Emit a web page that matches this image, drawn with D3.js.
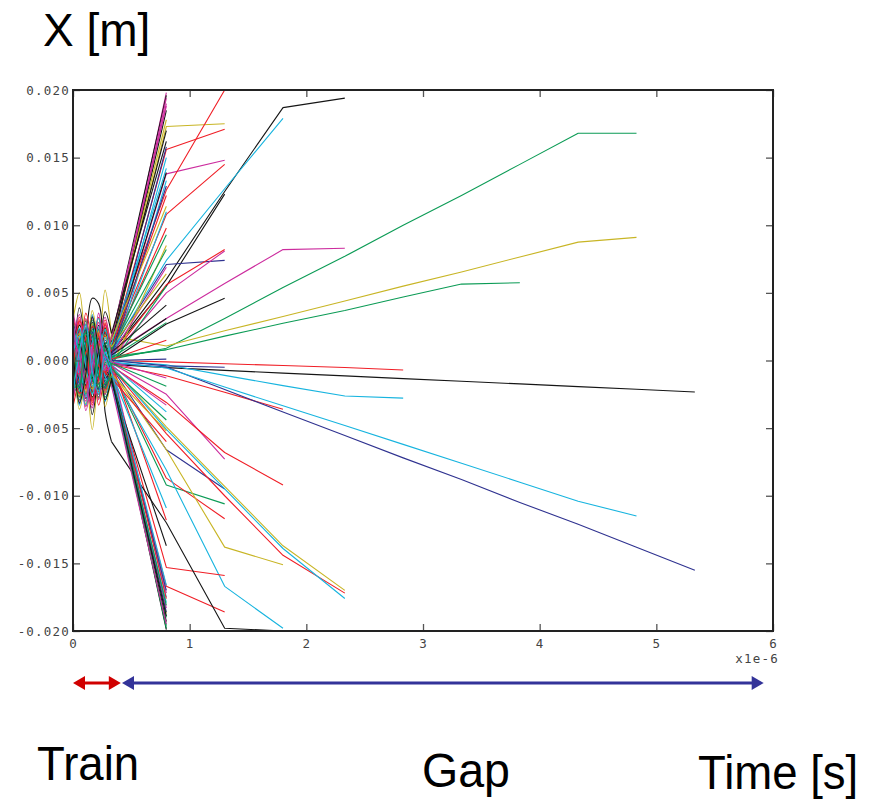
<!DOCTYPE html>
<html><head><meta charset="utf-8">
<script src="https://cdn.jsdelivr.net/npm/d3@7"></script>
<style>body{margin:0;background:#fff}svg{display:block}</style>
</head><body>
<svg id="chart" width="877" height="801"></svg>
<script>
// ---- data (time in 1e-6 s, position in 1e-3 m) ----
const trainT = [0, 0.055, 0.11, 0.165, 0.22, 0.275, 0.33];
const gapT = [0.8, 1.3, 1.8, 2.33, 2.83, 3.33, 3.83, 4.33, 4.83, 5.33];
const xTicks = [0, 1, 2, 3, 4, 5, 6];
const xTickLabels = ["0", "1", "2", "3", "4", "5", "6"];
const yTicks = [-20, -15, -10, -5, 0, 5, 10, 15, 20];
const yTickLabels = ["-0.020", "-0.015", "-0.010", "-0.005", "0.000", "0.005", "0.010", "0.015", "0.020"];
const palette = {K:"#151515", R:"#f01e26", G:"#0b9b55", B:"#2f3290", C:"#17b4df", M:"#cc2c9e", Y:"#c8b525"};
const trainSpan = [0, 0.41];
const gapSpan = [0.42, 5.92];

// [colour, positions at trainT, positions at gapT (until lost)]
const fanUp = [
 ["M",[1.2,2.8,-1.0,-2.9,1.3,2.6,1.0],[19.8]],
 ["K",[-2.0,1.5,2.2,-1.4,-2.1,1.2,1.6],[19.6]],
 ["M",[0.5,-3.0,-0.6,3.1,0.4,-2.5,0.6],[19.4]],
 ["M",[2.5,0.8,-2.6,-0.9,2.4,0.7,0.8],[19.0]],
 ["K",[-1.0,-2.4,1.1,2.5,-0.9,-2.0,0.9],[18.5]],
 ["Y",[3.0,-0.5,-3.2,0.6,3.1,-0.4,1.3],[17.8]],
 ["K",[0.3,2.0,-0.2,-2.1,0.4,1.9,1.4],[17.0]],
 ["B",[-1.8,-1.2,1.9,1.3,-1.7,-1.0,0.5],[15.8]],
 ["C",[1.6,-1.9,-1.7,2.0,1.5,-1.6,0.2],[15.0]],
 ["C",[-2.6,0.4,2.7,-0.5,-2.5,0.3,1.2],[14.2]],
 ["K",[0.9,1.1,-1.0,-1.2,0.9,1.0,0.6],[13.9]],
 ["C",[-0.4,-3.3,0.5,3.4,-0.3,-3.0,-0.4],[13.3]],
 ["R",[2.1,2.2,-2.0,-2.3,2.0,2.1,0.9],[12.2]],
 ["Y",[-1.5,2.6,1.6,-2.7,-1.4,2.4,1.5],[11.4]],
 ["C",[1.0,-0.6,-1.1,0.7,1.0,-0.5,0.1],[11.0]],
 ["R",[-3.4,-1.0,3.5,1.1,-3.3,-0.9,0.7],[9.8]],
 ["G",[0.7,2.3,-0.8,-2.4,0.6,2.2,0.9],[9.3]],
 ["Y",[2.2,-2.6,-2.3,2.7,2.1,-2.4,-0.5],[8.5]],
 ["G",[-0.2,1.4,0.3,-1.5,-0.2,1.3,0.8],[8.2]],
 ["M",[1.9,0.2,-2.0,-0.3,1.8,0.2,0.4],[6.9]],
 ["Y",[-2.9,1.7,3.0,-1.8,-2.8,1.6,1.0],[6.4]],
 ["G",[0.4,-2.2,-0.5,2.3,0.5,-2.1,-0.3],[5.5]],
 ["K",[-1.3,0.9,1.4,-1.0,-1.3,0.8,0.6],[4.1]],
 ["K",[2.7,1.2,-2.8,-1.3,2.6,1.1,0.4],[3.1]],
 ["G",[-0.6,-1.6,0.7,1.7,-0.5,-1.5,0.2],[2.8]],
 ["R",[1.4,-1.1,-1.5,1.2,1.3,-1.0,0.1],[1.5]],
 ["G",[-2.3,-0.3,2.4,0.4,-2.2,-0.2,0.3],[0.8]],
 ["B",[0.2,0.1,-0.2,-0.1,0.2,0.1,0.0],[0.1]],
 ["M",[3.6,0.9,-3.7,-1.0,3.5,0.8,1.7],[18.8]],
 ["K",[-0.7,3.9,0.8,-4.0,-0.6,3.6,2.0],[16.2]],
 ["B",[1.1,-2.0,-1.2,2.1,1.0,-1.8,0.4],[12.9]]
];
const fanDown = [
 ["K",[-1.1,2.6,1.2,-2.7,-1.0,2.4,-1.2],[-19.9]],
 ["G",[2.4,0.6,-2.5,-0.7,2.3,0.5,-0.9],[-19.8]],
 ["G",[-0.3,-2.9,0.4,3.0,-0.2,-2.7,-1.5],[-19.6]],
 ["K",[1.7,-1.4,-1.8,1.5,1.6,-1.3,-0.6],[-19.3]],
 ["G",[-2.8,1.0,2.9,-1.1,-2.7,0.9,-0.4],[-19.0]],
 ["Y",[0.8,2.0,-0.9,-2.1,0.7,1.9,-1.0],[-18.7]],
 ["M",[-1.6,-0.5,1.7,0.6,-1.5,-0.4,-0.8],[-18.3]],
 ["C",[3.2,-1.3,-3.3,1.4,3.1,-1.2,-1.8],[-17.9]],
 ["C",[-0.9,1.8,1.0,-1.9,-0.8,1.7,-0.5],[-17.5]],
 ["M",[1.3,3.4,-1.4,-3.5,1.2,3.2,-0.3],[-17.2]],
 ["B",[-2.2,-2.0,2.3,2.1,-2.1,-1.9,-1.1],[-17.0]],
 ["B",[0.1,-1.7,-0.1,1.8,0.0,-1.6,-1.4],[-18.6]],
 ["M",[-3.0,0.2,3.1,-0.3,-2.9,0.1,-1.9],[-19.5]],
 ["R",[1.9,-2.4,-2.0,2.5,1.8,-2.2,-0.7],[-17.6]],
 ["K",[0.6,1.2,-0.7,-1.3,0.6,1.1,-1.6],[-13.7]],
 ["R",[-1.4,2.9,1.5,-3.0,-1.3,2.7,-0.2],[-11.8]],
 ["C",[2.6,0.3,-2.7,-0.4,2.5,0.2,-0.9],[-10.9]],
 ["R",[-0.5,-1.0,0.6,1.1,-0.4,-0.9,-1.3],[-6.0]],
 ["Y",[1.0,-3.6,-1.1,3.7,0.9,-3.4,-1.0],[-5.2]],
 ["G",[-1.9,1.3,2.0,-1.4,-1.8,1.2,-0.6],[-4.4]],
 ["C",[0.3,2.4,-0.4,-2.5,0.3,2.3,-0.3],[-3.8]],
 ["M",[2.9,-0.8,-3.0,0.9,2.8,-0.7,-0.4],[-3.3]],
 ["G",[-1.2,-2.1,1.3,2.2,-1.1,-2.0,-0.2],[-1.9]],
 ["M",[1.5,0.4,-1.6,-0.5,1.4,0.3,-0.1],[-1.3]],
 ["G",[-2.0,-1.8,2.1,1.9,-2.0,-1.7,-1.2],[-18.1]],
 ["K",[0.9,-3.1,-1.0,3.2,0.8,-2.9,-1.3],[-18.9]],
 ["C",[-2.5,0.7,2.6,-0.8,-2.4,0.6,-0.8],[-16.6]]
];
const tracksUp = [
 ["Y",[-0.8,1.9,0.9,-2.0,-0.7,1.8,1.1],[17.3,17.5]],
 ["R",[2.3,-1.5,-2.4,1.6,2.2,-1.4,0.9],[15.6,17.1]],
 ["M",[-1.7,-2.5,1.8,2.6,-1.6,-2.3,0.5],[13.8,14.8]],
 ["R",[0.4,3.2,-0.5,-3.3,0.4,3.0,0.8],[10.8,14.5]],
 ["R",[-2.6,1.0,2.7,-1.1,-2.5,0.9,1.4],[12.6,20.0]],
 ["K",[1.1,-2.7,-1.2,2.8,1.0,-2.5,0.6],[6.0,12.5,18.7,19.4]],
 ["K",[-1.5,0.8,1.6,-0.9,-1.4,0.7,0.6],[5.5,12.3]],
 ["C",[0.2,-1.3,-0.3,1.4,0.2,-1.2,0.7],[7.4,12.7,17.9]],
 ["M",[-0.6,2.1,0.7,-2.2,-0.5,2.0,0.5],[3.1,5.7,8.2,8.3]],
 ["G",[1.8,0.5,-1.9,-0.6,1.7,0.4,0.1],[0.9,3.1,5.4,7.7,10.0,12.2,14.5,16.8,16.8]],
 ["Y",[3.0,5.0,0.2,-5.1,-0.2,5.2,1.8],[1.07,2.2,3.25,4.4,5.5,6.55,7.65,8.75,9.1]],
 ["G",[-2.1,-0.7,2.2,0.8,-2.0,-0.6,0.2],[0.8,1.8,2.75,3.7,4.7,5.65,5.75]],
 ["B",[0.9,1.6,-1.0,-1.7,0.8,1.5,0.7],[7.1,7.4]],
 ["R",[-1.1,-1.9,1.2,2.0,-1.0,-1.8,0.3],[5.6,8.2]],
 ["M",[2.0,-0.9,-2.1,1.0,1.9,-0.8,0.2],[5.0,8.1]],
 ["K",[-0.3,-1.2,0.4,1.3,-0.3,-1.1,0.0],[2.7,4.6]]
];
const tracksDown = [
 ["R",[0.4,0.3,-0.4,-0.3,0.4,0.3,0.0],[-0.1,-0.24,-0.37,-0.52,-0.7]],
 ["K",[-0.8,2.2,0.9,-2.3,-0.7,2.1,-0.3],[-0.53,-0.73,-0.93,-1.14,-1.34,-1.53,-1.73,-1.93,-2.13,-2.33]],
 ["C",[1.2,0.6,-1.3,-0.7,1.1,0.5,0.0],[-0.32,-1.1,-1.86,-2.63,-2.78]],
 ["R",[-2.4,-1.0,2.5,1.1,-2.3,-0.9,-0.3],[-1.13,-2.35,-3.6]],
 ["B",[0.6,-3.2,-0.7,3.3,0.5,-3.0,-0.2],[-0.48,-2.15,-3.8,-5.55,-7.2,-8.8,-10.5,-12.1,-13.8,-15.5]],
 ["C",[-1.6,0.3,1.7,-0.4,-1.5,0.2,-0.1],[-0.55,-1.96,-3.35,-4.8,-6.2,-7.6,-9.0,-10.4,-11.5]],
 ["B",[0.1,0.0,-0.1,0.0,0.1,0.0,0.0],[-0.4,-0.5]],
 ["M",[2.2,1.4,-2.3,-1.5,2.1,1.3,-0.2],[-2.5,-7.3]],
 ["R",[-0.9,2.7,1.0,-2.8,-0.8,2.5,-0.4],[-3.1,-6.8,-9.2]],
 ["B",[1.5,-0.4,-1.6,0.5,1.4,-0.3,-0.5],[-6.6,-9.5]],
 ["G",[-0.5,-2.6,0.6,2.7,-0.4,-2.4,-0.7],[-9.2,-10.6]],
 ["R",[3.3,0.5,-3.4,-0.6,3.2,0.4,-0.6],[-8.7,-11.7]],
 ["Y",[-1.8,1.2,1.9,-1.3,-1.7,1.1,-0.8],[-6.6,-13.8,-15.1]],
 ["C",[0.7,-2.3,-0.8,2.4,0.6,-2.1,-0.9],[-8.1,-16.7,-19.8]],
 ["R",[-2.9,-0.2,3.0,0.3,-2.8,-0.1,-1.0],[-15.3,-15.9]],
 ["R",[1.0,1.9,-1.1,-2.0,0.9,1.8,-1.1],[-16.7,-18.6]],
 ["K",[0.5,-1.5,1.5,4.6,4.2,-3.8,-6.0],[-12.0,-19.8,-20.0]],
 ["R",[-1.3,3.0,1.4,-3.1,-1.2,2.8,-0.5],[-5.4,-10.0,-14.4,-17.2]],
 ["Y",[2.0,-1.0,-2.1,1.1,1.9,-0.9,-0.4],[-4.9,-9.3,-13.7,-17.0]],
 ["C",[-0.2,-1.5,0.3,1.6,-0.2,-1.4,-0.4],[-5.1,-9.5,-13.9,-17.6]]
];

// ---- drawing ----
const svg = d3.select("#chart");
const L = 73, R = 773, T = 90, B = 631;
const x = d3.scaleLinear().domain([0, 6]).range([L, R]);
const y = d3.scaleLinear().domain([-20, 20]).range([B, T]);

svg.append("defs").append("clipPath").attr("id", "plotclip")
  .append("rect").attr("x", L).attr("y", T).attr("width", R - L).attr("height", B - T);

const plot = svg.append("g").attr("clip-path", "url(#plotclip)");
const trainLine = d3.line().x(d => x(d[0])).y(d => y(d[1])).curve(d3.curveCatmullRom.alpha(0.5));
const gapLine = d3.line().x(d => x(d[0])).y(d => y(d[1]));

const all = [].concat(tracksUp, tracksDown, fanUp, fanDown);
all.forEach(tr => {
  const col = palette[tr[0]];
  const tp = trainT.map((t, i) => [t, tr[1][i]]);
  const gp = [tp[tp.length - 1]].concat(tr[2].map((v, i) => [gapT[i], v]));
  plot.append("path").attr("d", trainLine(tp)).attr("fill", "none")
    .attr("stroke", col).attr("stroke-width", 1.1);
  plot.append("path").attr("d", gapLine(gp)).attr("fill", "none")
    .attr("stroke", col).attr("stroke-width", 1.1).attr("stroke-linejoin", "round");
});

// axes with inward ticks
const tickFont = "'DejaVu Sans Mono', monospace";
function styleAxis(g) {
  g.select(".domain").remove();
  g.selectAll(".tick line").attr("stroke", "#555").attr("stroke-width", 1.3);
  g.selectAll(".tick text").attr("fill", "#444").style("font-family", tickFont)
    .style("font-size", "12.5px").style("letter-spacing", "1.2px");
}
svg.append("g").attr("transform", `translate(${L},0)`)
  .call(d3.axisLeft(y).tickValues(yTicks).tickFormat((d, i) => yTickLabels[i]).tickSize(-7).tickPadding(3))
  .call(styleAxis);
svg.append("g").attr("transform", `translate(${R},0)`)
  .call(d3.axisRight(y).tickValues(yTicks).tickFormat("").tickSize(-7))
  .call(styleAxis);
svg.append("g").attr("transform", `translate(0,${B})`)
  .call(d3.axisBottom(x).tickValues(xTicks).tickFormat((d, i) => xTickLabels[i]).tickSize(-7).tickPadding(8))
  .call(styleAxis);
svg.append("g").attr("transform", `translate(0,${T})`)
  .call(d3.axisTop(x).tickValues(xTicks).tickFormat("").tickSize(-7))
  .call(styleAxis);

svg.append("rect").attr("x", L).attr("y", T).attr("width", R - L).attr("height", B - T)
  .attr("fill", "none").attr("stroke", "#222").attr("stroke-width", 2);

svg.append("text").attr("x", 779).attr("y", 663).attr("text-anchor", "end")
  .attr("fill", "#444").style("font-family", tickFont).style("font-size", "12.5px")
  .style("letter-spacing", "1.2px").text("x1e-6");

// span arrows
function dblArrow(span, color) {
  const a = x(span[0]), b = x(span[1]), yy = 683, hl = 12, hw = 7;
  svg.append("line").attr("x1", a + hl - 2).attr("x2", b - hl + 2).attr("y1", yy).attr("y2", yy)
    .attr("stroke", color).attr("stroke-width", 3);
  svg.append("path").attr("d", `M${a},${yy}L${a + hl},${yy - hw}L${a + hl},${yy + hw}Z`).attr("fill", color);
  svg.append("path").attr("d", `M${b},${yy}L${b - hl},${yy - hw}L${b - hl},${yy + hw}Z`).attr("fill", color);
}
dblArrow(trainSpan, "#d00000");
dblArrow(gapSpan, "#333399");

// labels (narrow sans, scaled horizontally)
const big = "'Liberation Sans', Arial, sans-serif";
svg.append("text").attr("x", 43).attr("y", 46).style("font-family", big).style("font-size", "46px")
  .attr("fill", "#000").text("X [m]");
function narrowText(str, x0, y0, sx) {
  svg.append("text").attr("transform", `translate(${x0},${y0}) scale(${sx},1)`)
    .style("font-family", big).style("font-size", "49px").attr("fill", "#000").text(str);
}
narrowText("Train", 37, 780, 0.93);
narrowText("Gap", 422, 787, 0.95);
narrowText("Time [s]", 698, 789, 0.93);
</script>
</body></html>
